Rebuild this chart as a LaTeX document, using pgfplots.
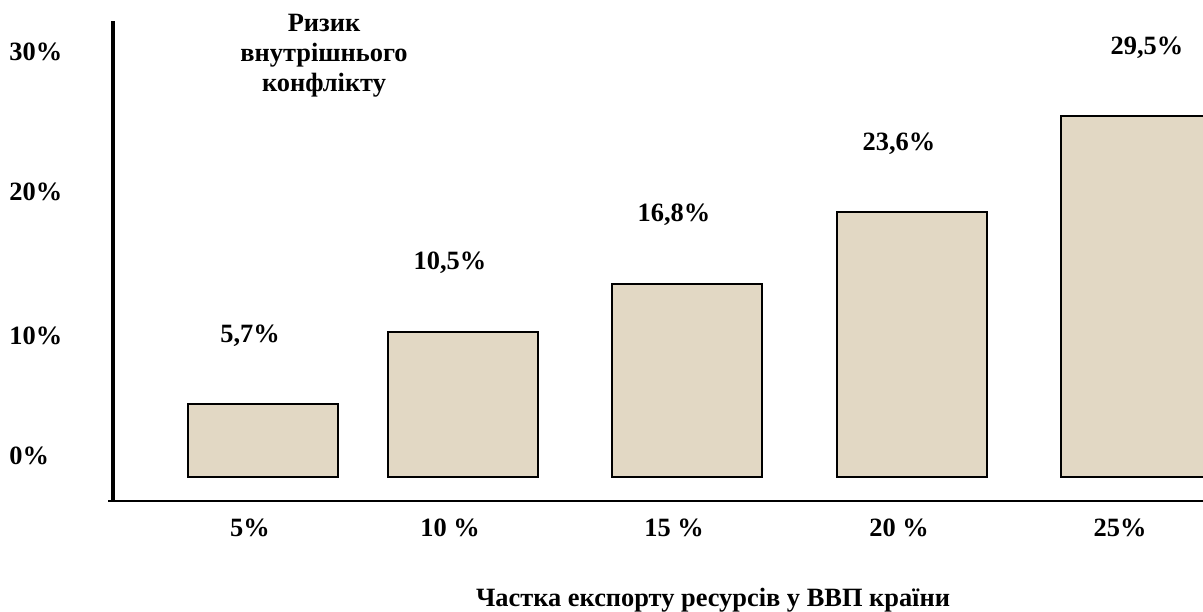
\documentclass[border=0pt]{standalone}
\usepackage{pgfplots}
\pgfplotsset{compat=1.18}
\usepackage{fontspec}
\setmainfont{Liberation Serif}
\definecolor{barfill}{RGB}{226,216,196}
\newcommand{\lblfont}{\bfseries\fontsize{13.2}{15}\selectfont}
\begin{document}
\begin{tikzpicture}
\useasboundingbox (0,0) rectangle (601.5pt,305.5pt);
\begin{axis}[
  at={(56.5pt,55pt)}, anchor=south west,
  scale only axis, width=545pt, height=240pt,
  xmin=113, xmax=1203, ymin=-1.97, ymax=37.38,
  axis x line*=bottom, axis y line*=left,
  x axis line style={line width=1.3pt, -, shorten <=-2.5pt},
  y axis line style={line width=2pt, -},
  major tick length=0pt,
  xtick={250,450,674,899,1120},
  xticklabels={5\%,10 \%,15 \%,20 \%,25\%},
  ytick={1.72,11.56,23.36,34.84},
  yticklabels={0\%,10\%,20\%,30\%},
  tick label style={font=\lblfont},
  xticklabel style={anchor=center, yshift=-13.5pt},
  yticklabel style={anchor=west, inner sep=0pt, xshift=-52pt},
  /pgf/number format/assume math mode=true,
  ylabel={Ризик\\внутрішнього\\конфлікту},
  every axis y label/.style={at={(rel axis cs:0.1936,0.927)}, anchor=center, align=center, font=\lblfont},
  xlabel={Частка експорту ресурсів у ВВП країни},
  every axis x label/.style={at={(rel axis cs:0.5505,-0.206)}, anchor=center, font=\lblfont},
]
\addplot[ybar, bar width=150, fill=barfill, draw=black, line width=1pt] table {
x y
263 5.98
463 11.89
687 15.82
911.5 21.72
1136 29.59
};
\addplot[only marks, mark=none, point meta=explicit,
  nodes near coords={\pgfmathprintnumber[use comma,fixed,fixed zerofill,precision=1]{\pgfplotspointmeta}\%},
  nodes near coords style={anchor=center, font=\lblfont}] table[meta=v] {
x y v
250 11.56 5.7
450 17.54 10.5
674 21.48 16.8
899 27.30 23.6
1147 35.16 29.5
};
\end{axis}
\end{tikzpicture}
\end{document}
